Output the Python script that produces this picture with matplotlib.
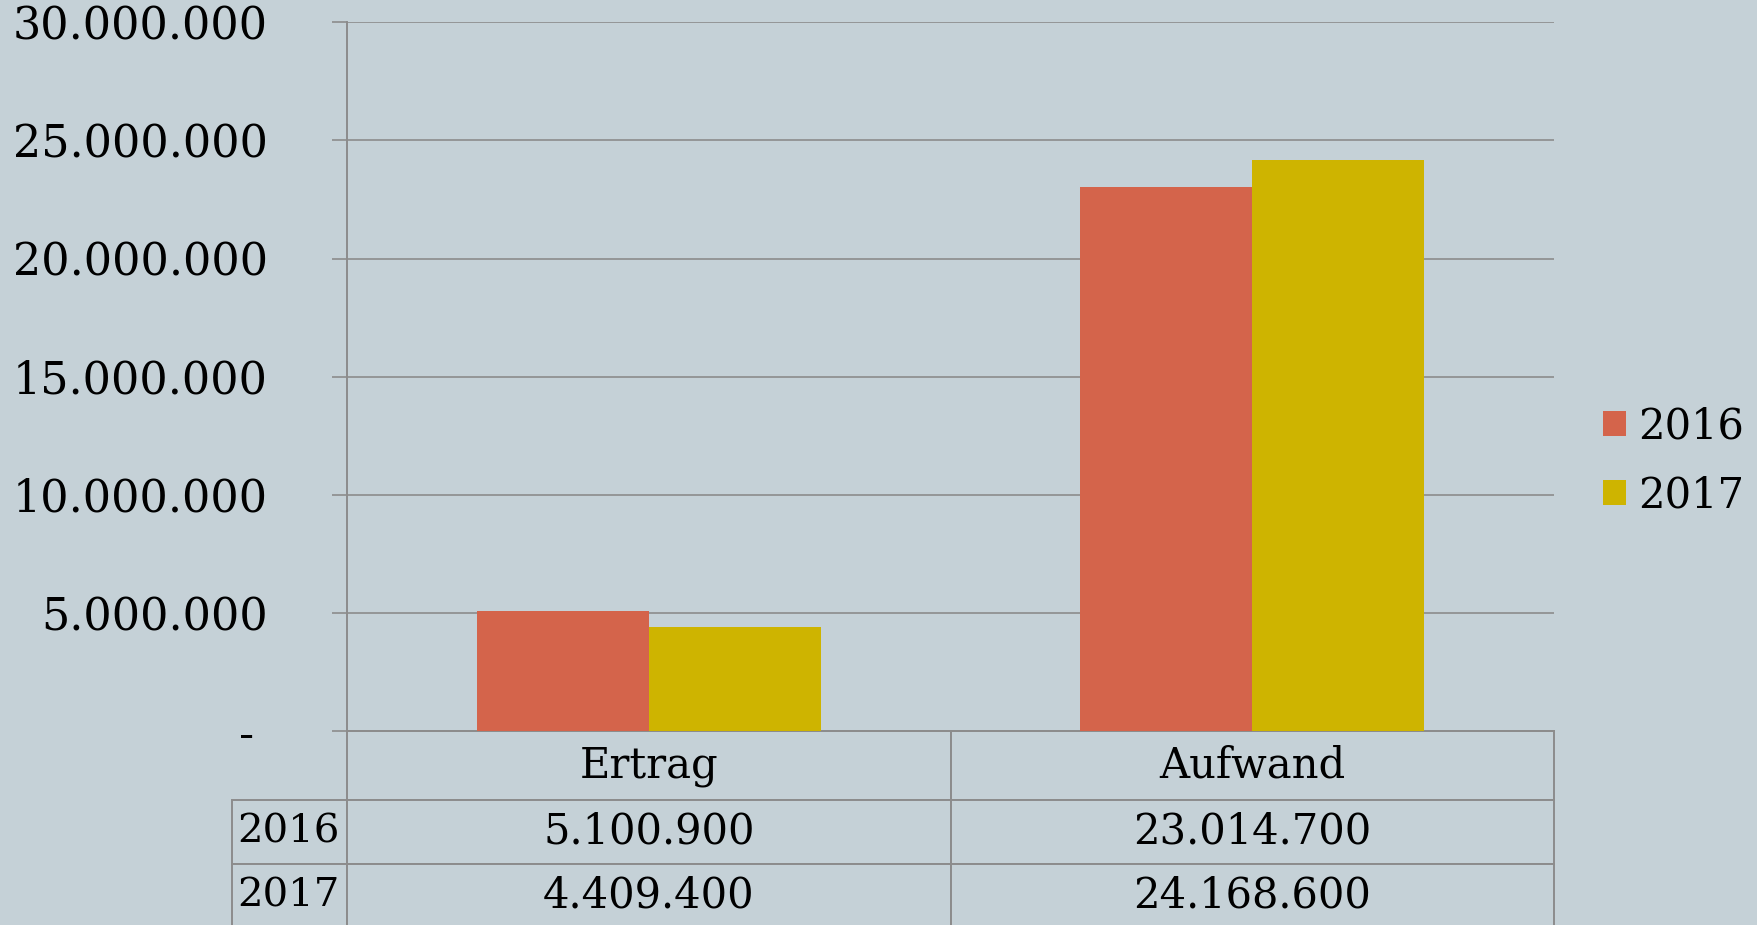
import numpy as np
import matplotlib.pyplot as plt
from matplotlib.ticker import FuncFormatter
from matplotlib.table import Table

categories = ["Ertrag", "Aufwand"]
years = ["2016", "2017"]
values_2016 = [5100900, 23014700]
values_2017 = [4409400, 24168600]
colors = ["#D4644B", "#CEB400"]

bg = "#C5D1D7"
grid_col = "#8C8C8C"

plt.rcParams["font.family"] = ["DejaVu Serif"]


def de_fmt(v):
    return "{:,.0f}".format(v).replace(",", ".")


fig = plt.figure(figsize=(17.57, 9.25), dpi=100, facecolor=bg)
ax = fig.add_axes([0.1975, 0.2097, 0.687, 0.7661])
ax.set_facecolor(bg)

x = np.arange(len(categories))
w = 0.285
ax.bar(x - w / 2, values_2016, w, color=colors[0], label=years[0], zorder=3)
ax.bar(x + w / 2, values_2017, w, color=colors[1], label=years[1], zorder=3)

ax.set_xlim(-0.5, 1.5)
ax.set_ylim(0, 30000000)
ax.set_yticks(np.arange(0, 30000001, 5000000))
ax.yaxis.set_major_formatter(FuncFormatter(lambda v, p: "- " if v == 0 else de_fmt(v)))
ax.set_xticks([])
ax.grid(axis="y", color=grid_col, linewidth=1.2, zorder=0)
ax.tick_params(axis="y", length=11, width=1.2, color=grid_col, pad=46, labelsize=32)
for s in ["top", "right"]:
    ax.spines[s].set_visible(False)
for s in ["left", "bottom"]:
    ax.spines[s].set_color(grid_col)
    ax.spines[s].set_linewidth(1.4)

# data table under the axes (axes coordinates); row labels hang left of the grid
rl_w = 0.0953
h_head = 69 / 709
h_row = 64 / 709
tbl = Table(ax, bbox=[0, -(h_head + 2 * h_row), 1, h_head + 2 * h_row])
tbl.auto_set_font_size(False)


def add(r, c, width, height, text, loc):
    cell = tbl.add_cell(r, c, width=width, height=height, text=text, loc=loc,
                        facecolor=bg, edgecolor=grid_col)
    cell.set_linewidth(1.4)
    return cell


for j, cat in enumerate(categories):
    add(0, j, 0.5, h_head, cat, "center")
rows = [values_2016, values_2017]
label_cells = []
for i, yr in enumerate(years):
    c = add(i + 1, -1, rl_w, h_row, yr, "left")
    c.PAD = 0.05
    label_cells.append(c)
    for j, v in enumerate(rows[i]):
        add(i + 1, j, 0.5, h_row, de_fmt(v), "center")
tbl.set_fontsize(30)
for c in label_cells:
    c.get_text().set_fontsize(29)
ax.add_table(tbl)

ax.legend(loc="center left", bbox_to_anchor=(0.891, 0.5016), bbox_transform=fig.transFigure,
          frameon=False, fontsize=30, handlelength=0.55, handleheight=0.55,
          handletextpad=0.3, labelspacing=0.65)

fig.savefig("out.png", dpi=100, facecolor=bg)
